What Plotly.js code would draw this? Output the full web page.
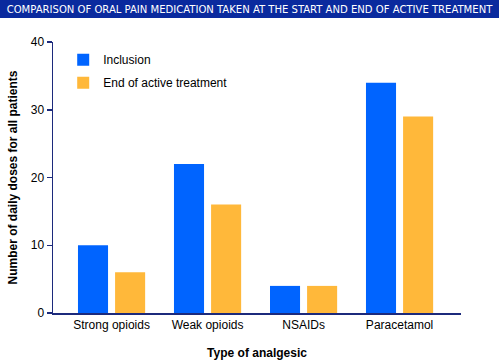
<!DOCTYPE html>
<html>
<head>
<meta charset="utf-8">
<script src="https://cdn.plot.ly/plotly-3.0.1.min.js"></script>
<style>html,body{margin:0;padding:0;background:#fff;}#chart{width:499px;height:360px;}</style>
</head>
<body>
<div id="chart"></div>
<script>
var categories = ["Strong opioids", "Weak opioids", "NSAIDs", "Paracetamol"];
var inclusion = [10, 22, 4, 34];
var endOfTreatment = [6, 16, 4, 29];
var seriesNames = ["Inclusion", "End of active treatment"];
var yTicks = [0, 10, 20, 30, 40];

var font = "Liberation Sans, Arial, sans-serif";
var axisColor = "#1c2a7c";

var data = [
  {type: "bar", name: seriesNames[0], legendgroup: "a", x: categories, y: inclusion, marker: {color: "#0064ff"}},
  {type: "bar", name: seriesNames[1], legendgroup: "b", x: categories, y: endOfTreatment, marker: {color: "#ffb83a"}}
];

var layout = {
  width: 499, height: 360,
  margin: {l: 53, r: 38, t: 42, b: 47, pad: 0},
  paper_bgcolor: "#fff", plot_bgcolor: "#fff",
  font: {family: font, size: 12, color: "#000"},
  barmode: "group", bargap: 0.227, bargroupgap: 0.19,
  showlegend: true,
  legend: {x: 0.025, y: 0.988, xanchor: "left", yanchor: "top", bgcolor: "rgba(0,0,0,0)",
           font: {family: font, size: 12, color: "#000"}, tracegroupgap: 4, traceorder: "grouped"},
  title: {text: "COMPARISON OF ORAL PAIN MEDICATION TAKEN AT THE START AND END OF ACTIVE TREATMENT",
          font: {family: "DejaVu Sans Condensed, Liberation Sans, sans-serif", size: 11.2, color: "#fff"},
          x: 0.5, xref: "container", xanchor: "center", y: 0.975, yref: "container", yanchor: "middle"},
  xaxis: {
    range: [-0.61, 3.64], showgrid: false, zeroline: false,
    showline: true, linecolor: axisColor, linewidth: 1.5,
    ticks: "", tickfont: {family: font, size: 12, color: "#000"},
    title: {text: "<b>Type of analgesic</b>", font: {family: font, size: 12, color: "#000"}, standoff: 17}
  },
  yaxis: {
    range: [0, 40], tickvals: yTicks, showgrid: false, zeroline: false,
    showline: true, linecolor: axisColor, linewidth: 1.5,
    ticks: "outside", ticklen: 5, tickcolor: axisColor, tickwidth: 1.5,
    tickfont: {family: font, size: 12, color: "#000"},
    title: {text: "<b>Number of daily doses for all patients</b>", font: {family: font, size: 12, color: "#000"}, standoff: 10}
  },
  shapes: [
    {type: "rect", xref: "paper", yref: "paper", x0: -0.2, x1: 1.2, y0: 1 + 24/271, y1: 1 + 42/271,
     fillcolor: "#0a2a9e", line: {width: 0}, layer: "below"}
  ]
};

Plotly.newPlot("chart", data, layout, {displayModeBar: false, staticPlot: true});
</script>
</body>
</html>
